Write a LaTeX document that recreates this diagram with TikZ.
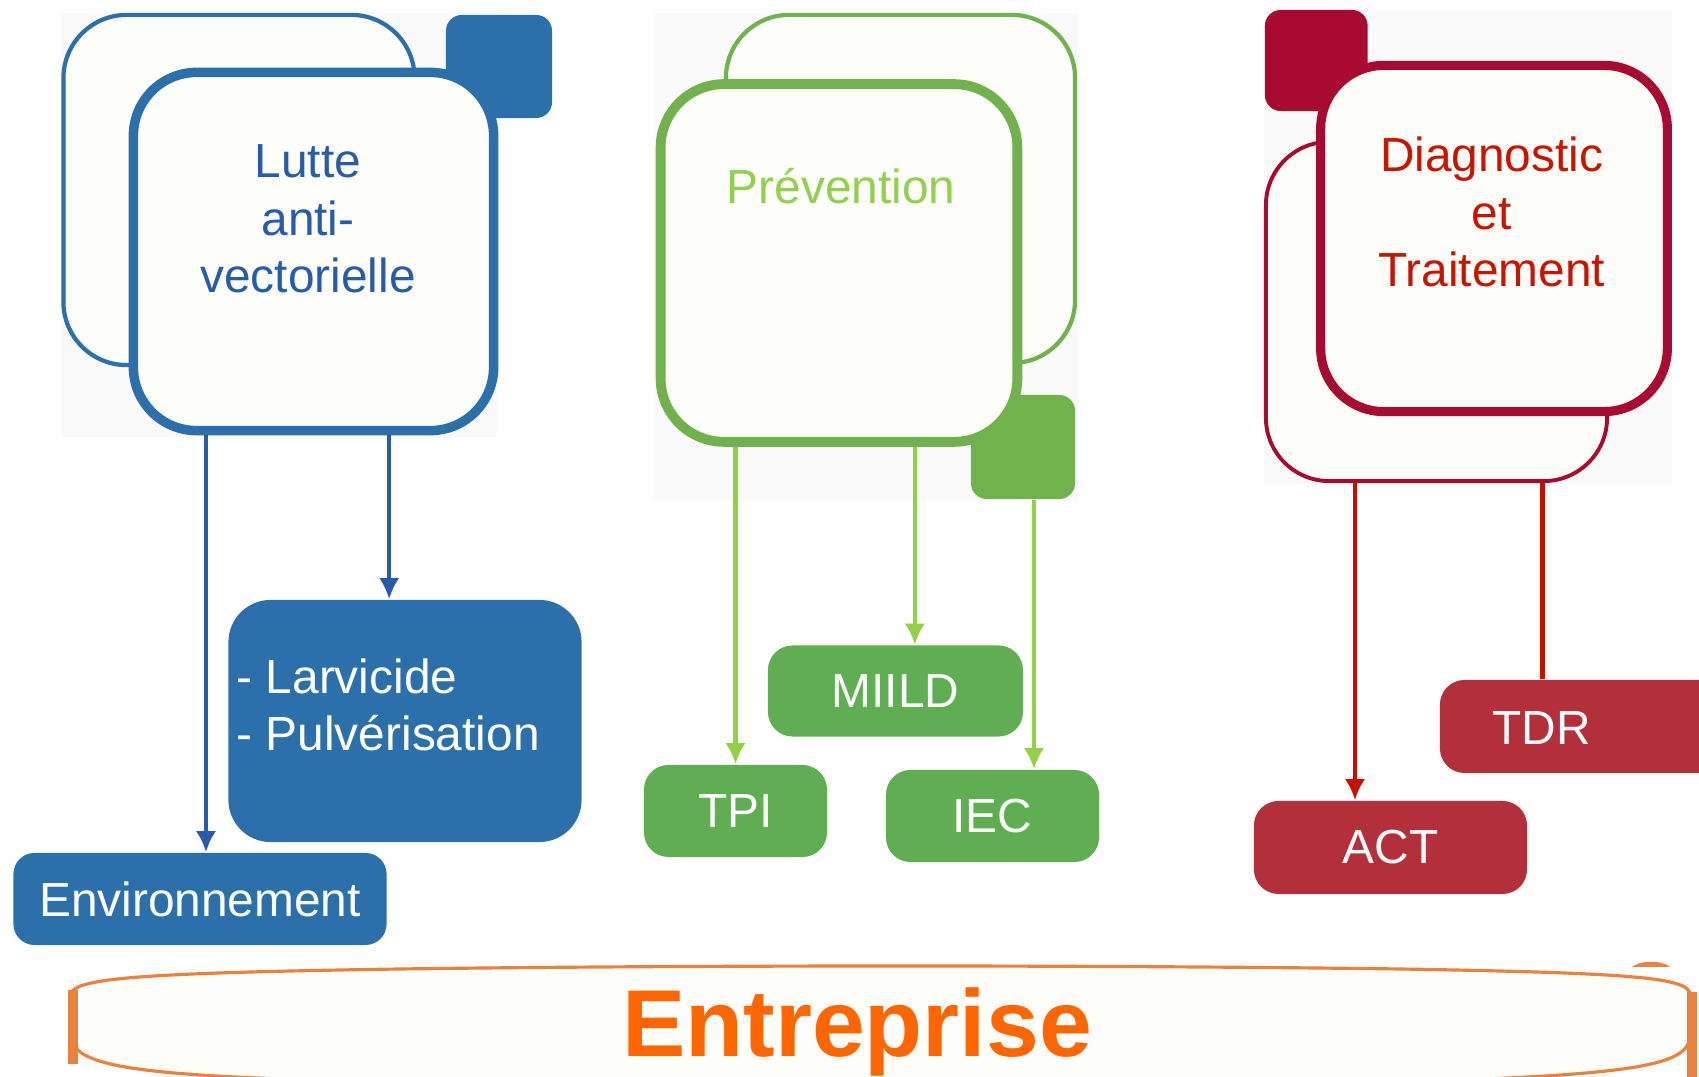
\documentclass[tikz,border=0pt]{standalone}
\usepackage{fontspec}
\setmainfont{Liberation Sans}
\usetikzlibrary{arrows.meta}

\definecolor{bleuBox}{RGB}{43,112,170}
\definecolor{bleuTxt}{RGB}{38,92,170}
\definecolor{bleuArr}{RGB}{40,92,170}
\definecolor{vertLine}{RGB}{112,179,77}
\definecolor{vertBox}{RGB}{95,175,82}
\definecolor{vertArr}{RGB}{146,208,70}
\definecolor{vertTxt}{RGB}{146,208,80}
\definecolor{rougeLine}{RGB}{168,10,48}
\definecolor{rougeBox}{RGB}{179,48,58}
\definecolor{rougeArr}{RGB}{200,16,0}
\definecolor{rougeTxt}{RGB}{200,20,0}
\definecolor{orangeTxt}{RGB}{255,102,0}
\definecolor{orangeLine}{RGB}{232,130,60}
\definecolor{fondBox}{RGB}{253,253,250}
\definecolor{fondPanel}{RGB}{250,250,250}

\tikzset{>={Latex[length=6pt,width=5.8pt]}}

\begin{document}
\begin{tikzpicture}[x=0.01cm,y=-0.01cm]

	\tikzstyle{back_box} = [rectangle, rounded corners=18pt, fill=fondBox, line width=1.2pt, inner sep=0pt]
	\tikzstyle{front_box} = [rectangle, rounded corners=18pt, fill=fondBox, line width=2.7pt, inner sep=0pt]
	\tikzstyle{corner_box} = [rectangle, rounded corners=4.5pt, inner sep=0pt]
	\tikzstyle{leaf_box} = [rectangle, rounded corners=7pt, text=white, font=\fontsize{13.6}{16.4}\selectfont, inner sep=0pt]
	\tikzstyle{title_text} = [align=center, font=\fontsize{13.6}{16.4}\selectfont, inner sep=0pt]

	\useasboundingbox (0,0) rectangle (1699,1077);
	\fill[white] (0,0) rectangle (1699,1077);

%------------------------------------------------------------
	\fill[fondPanel] (61,13) rectangle (497,437);
	\node[back_box, draw=bleuBox, minimum width=3.51cm, minimum height=3.50cm] (lutteBack) at (239,190) {};
	\node[corner_box, fill=bleuBox, minimum width=1.06cm, minimum height=1.03cm] (lutteSq) at (499,66.5) {};
	\node[front_box, draw=bleuBox, minimum width=3.60cm, minimum height=3.58cm] (lutte) at (313.5,251.5) {};
	\node[title_text, text=bleuTxt] (lutteText) at (308,219) {Lutte\\anti-\\vectorielle};

	\node[leaf_box, fill=bleuBox, rounded corners=6pt, minimum width=3.73cm, minimum height=0.92cm] (env) at (200,899) {Environnement};
	\node[leaf_box, fill=bleuBox, rounded corners=12pt, minimum width=3.53cm, minimum height=2.42cm] (lar) at (405,721) {};
	\node[title_text, text=white, align=left, anchor=west] (larText) at (236,705) {- Larvicide\\- Pulvérisation};

	\coordinate (envIn) at ([xshift=1.7pt]env.north);
	\coordinate (larIn) at ([xshift=-4.5pt]lar.north);
	\path[->, bleuArr, line width=1.3pt] (lutte.south -| envIn) edge (envIn);
	\path[->, bleuArr, line width=1.3pt] (lutte.south -| larIn) edge (larIn);

%------------------------------------------------------------
	\fill[fondPanel] (654,13) rectangle (1078,500);
	\node[back_box, draw=vertLine, minimum width=3.49cm, minimum height=3.48cm] (prevBack) at (900.5,189) {};
	\node[corner_box, fill=vertLine, minimum width=1.04cm, minimum height=1.04cm] (prevSq) at (1023,447) {};
	\node[front_box, draw=vertLine, line width=2.8pt, minimum width=3.565cm, minimum height=3.575cm] (prev) at (839,263) {};
	\node[title_text, text=vertTxt, anchor=base] (prevText) at (841,204) {Prévention};

	\node[leaf_box, fill=vertBox, minimum width=2.55cm, minimum height=0.91cm] (miild) at (895.5,691) {MIILD};
	\node[leaf_box, fill=vertBox, minimum width=1.83cm, minimum height=0.92cm] (tpi) at (735.5,811) {TPI};
	\node[leaf_box, fill=vertBox, minimum width=2.13cm, minimum height=0.92cm] (iec) at (992.5,816) {IEC};

	\coordinate (miildIn) at ([xshift=5.5pt]miild.north);
	\coordinate (iecIn) at ([xshift=11.8pt]iec.north);
	\path[->, vertArr, line width=1.3pt] (prev.south -| tpi.north) edge (tpi.north);
	\path[->, vertArr, line width=1.3pt] (prev.south -| miildIn) edge (miildIn);
	\path[->, vertArr, line width=1.3pt] (prevSq.south -| iecIn) edge (iecIn);

%------------------------------------------------------------
	\fill[fondPanel] (1264,10) rectangle (1672,484);
	\node[back_box, draw=rougeLine, line width=1.1pt, minimum width=3.41cm, minimum height=3.39cm] (diagBack) at (1436.5,311.5) {};
	\node[corner_box, fill=rougeLine, minimum width=1.027cm, minimum height=1.01cm] (diagSq) at (1316.3,60.5) {};
	\node[front_box, draw=rougeLine, line width=2.6pt, minimum width=3.465cm, minimum height=3.46cm] (diag) at (1494,238.5) {};
	\node[title_text, text=rougeTxt] (diagText) at (1491.7,212) {Diagnostic\\et\\Traitement};

	\node[leaf_box, fill=rougeBox, minimum width=2.90cm, minimum height=0.93cm] (tdr) at (1585,726.5) {};
	\node[title_text, text=white, anchor=base] (tdrText) at (1541.6,745) {TDR};
	\node[leaf_box, fill=rougeBox, minimum width=2.73cm, minimum height=0.93cm] (act) at (1390.5,847.5) {ACT};

	\coordinate (actIn) at ([xshift=-10.1pt]act.north);
	\coordinate (tdrIn) at ([xshift=-12pt]tdr.north);
	\path[->, rougeArr, line width=1.4pt] (diagBack.south -| actIn) edge (actIn);
	\draw[rougeArr, line width=1.4pt] (diagBack.south -| tdrIn) -- (tdrIn);

%------------------------------------------------------------
	\draw[orangeLine, line width=0.9pt, fill=fondBox] (71,1035) -- (71,995) .. controls (71,978) and (140,973) .. (400,969) .. controls (700,965) and (1100,965) .. (1400,969) .. controls (1640,973) and (1690,978) .. (1690,995) -- (1690,1035) .. controls (1690,1065) and (1640,1075) .. (1400,1082) -- (400,1082) .. controls (140,1077) and (71,1068) .. (71,1035) -- cycle;
	\draw[orangeLine, line width=3pt] (73,990) -- (73,1064);
	\draw[orangeLine, line width=3pt] (1692,992) -- (1692,1077);
	\fill[orangeLine] (1632,967) .. controls (1640,960) and (1662,960) .. (1670,967) -- cycle;
	\node[font=\fontsize{27}{32}\selectfont\bfseries, text=orangeTxt, anchor=base, inner sep=0pt] (ent) at (857,1057) {Entreprise};

\end{tikzpicture}
\end{document}
